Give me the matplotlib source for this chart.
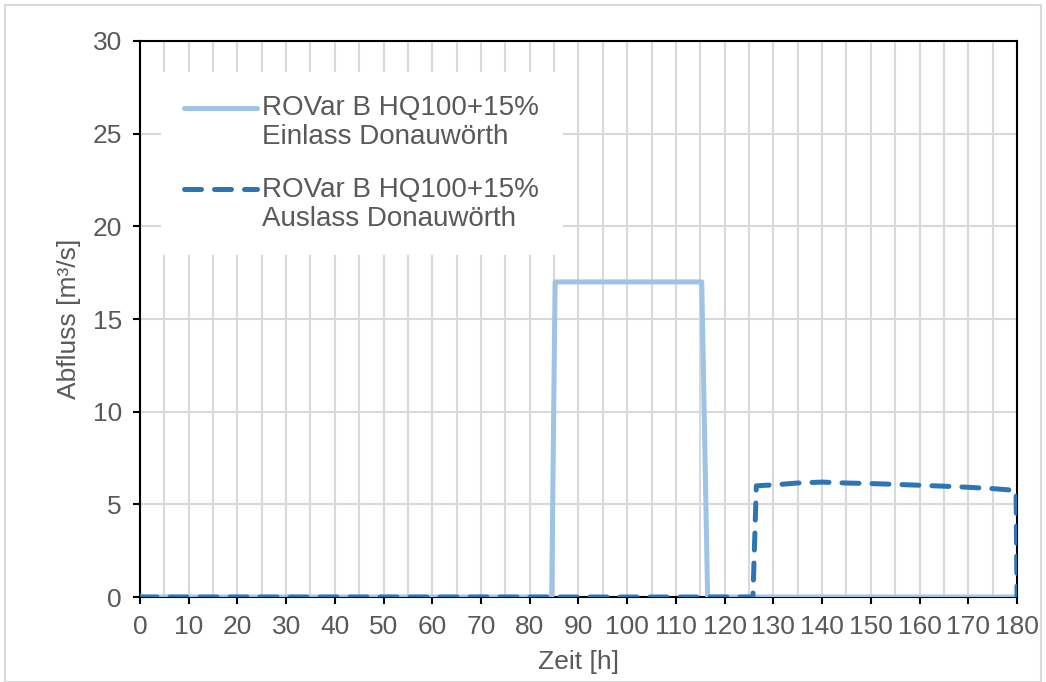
import matplotlib.pyplot as plt
from matplotlib.patches import Rectangle
from matplotlib.ticker import MultipleLocator

plt.rcParams['font.family'] = ['Liberation Sans', 'DejaVu Sans']

# Einlass (inflow) series
zeit_ein = [0, 84.5, 85.2, 115.3, 116.5, 180]
abfluss_ein = [0, 0, 17, 17, 0, 0]

# Auslass (outflow) series
zeit_aus = [0, 125.8, 126.5, 130, 135, 140, 145, 150, 155, 160, 165, 170, 175, 179.8, 180]
abfluss_aus = [0, 0, 6.0, 6.05, 6.15, 6.2, 6.15, 6.12, 6.08, 6.03, 5.98, 5.92, 5.85, 5.75, 0]

label_ein = 'ROVar B HQ100+15%\nEinlass Donauwörth'
label_aus = 'ROVar B HQ100+15%\nAuslass Donauwörth'

txt = '#595959'
grid = '#D9D9D9'

fig = plt.figure(figsize=(10.46, 6.82), dpi=100)
ax = fig.add_axes([0.1338, 0.1246, 0.8385, 0.8153])

# light border round the whole chart
fig.patches.append(Rectangle((0.005, 0.0), 0.99, 0.992, transform=fig.transFigure,
                             fill=False, edgecolor=grid, linewidth=1.5))

ax.plot(zeit_ein, abfluss_ein, color='#9DC3E6', lw=3.6, label=label_ein,
        solid_capstyle='round', solid_joinstyle='round', zorder=3)
ax.plot(zeit_aus, abfluss_aus, color='#2E75B6', lw=3.6, label=label_aus,
        linestyle=(0, (3.4, 2.6)), dash_capstyle='round', zorder=4)

ax.set_xlim(0, 180)
ax.set_ylim(0, 30)
ax.xaxis.set_major_locator(MultipleLocator(10))
ax.xaxis.set_minor_locator(MultipleLocator(5))
ax.yaxis.set_major_locator(MultipleLocator(5))

ax.grid(True, which='both', axis='x', color=grid, lw=1.5)
ax.grid(True, which='major', axis='y', color=grid, lw=1.5)
ax.set_axisbelow(True)

ax.tick_params(axis='both', which='major', direction='out', length=5, width=1.5,
               colors='black', labelcolor=txt, labelsize=19, pad=8)
ax.tick_params(axis='x', which='minor', length=0)
for s in ax.spines.values():
    s.set_color('black')
    s.set_linewidth(1.5)

ax.set_xlabel('Zeit [h]', color=txt, fontsize=19, labelpad=8)
ax.set_ylabel('Abfluss [m³/s]', color=txt, fontsize=19, labelpad=8)

leg = ax.legend(loc='upper left', bbox_to_anchor=(0.008, 0.97), fontsize=20,
                frameon=True, facecolor='white', edgecolor='none', framealpha=1,
                handlelength=2.6, handletextpad=0.2, labelspacing=0.95,
                borderpad=0.85, fancybox=False)
for t in leg.get_texts():
    t.set_color(txt)
    t.set_linespacing(1.15)
# Excel puts the legend key level with the first text line
for ln in leg.get_lines():
    ln.set_ydata([y + 11 for y in ln.get_ydata()])

fig.savefig('out.png', dpi=100)
